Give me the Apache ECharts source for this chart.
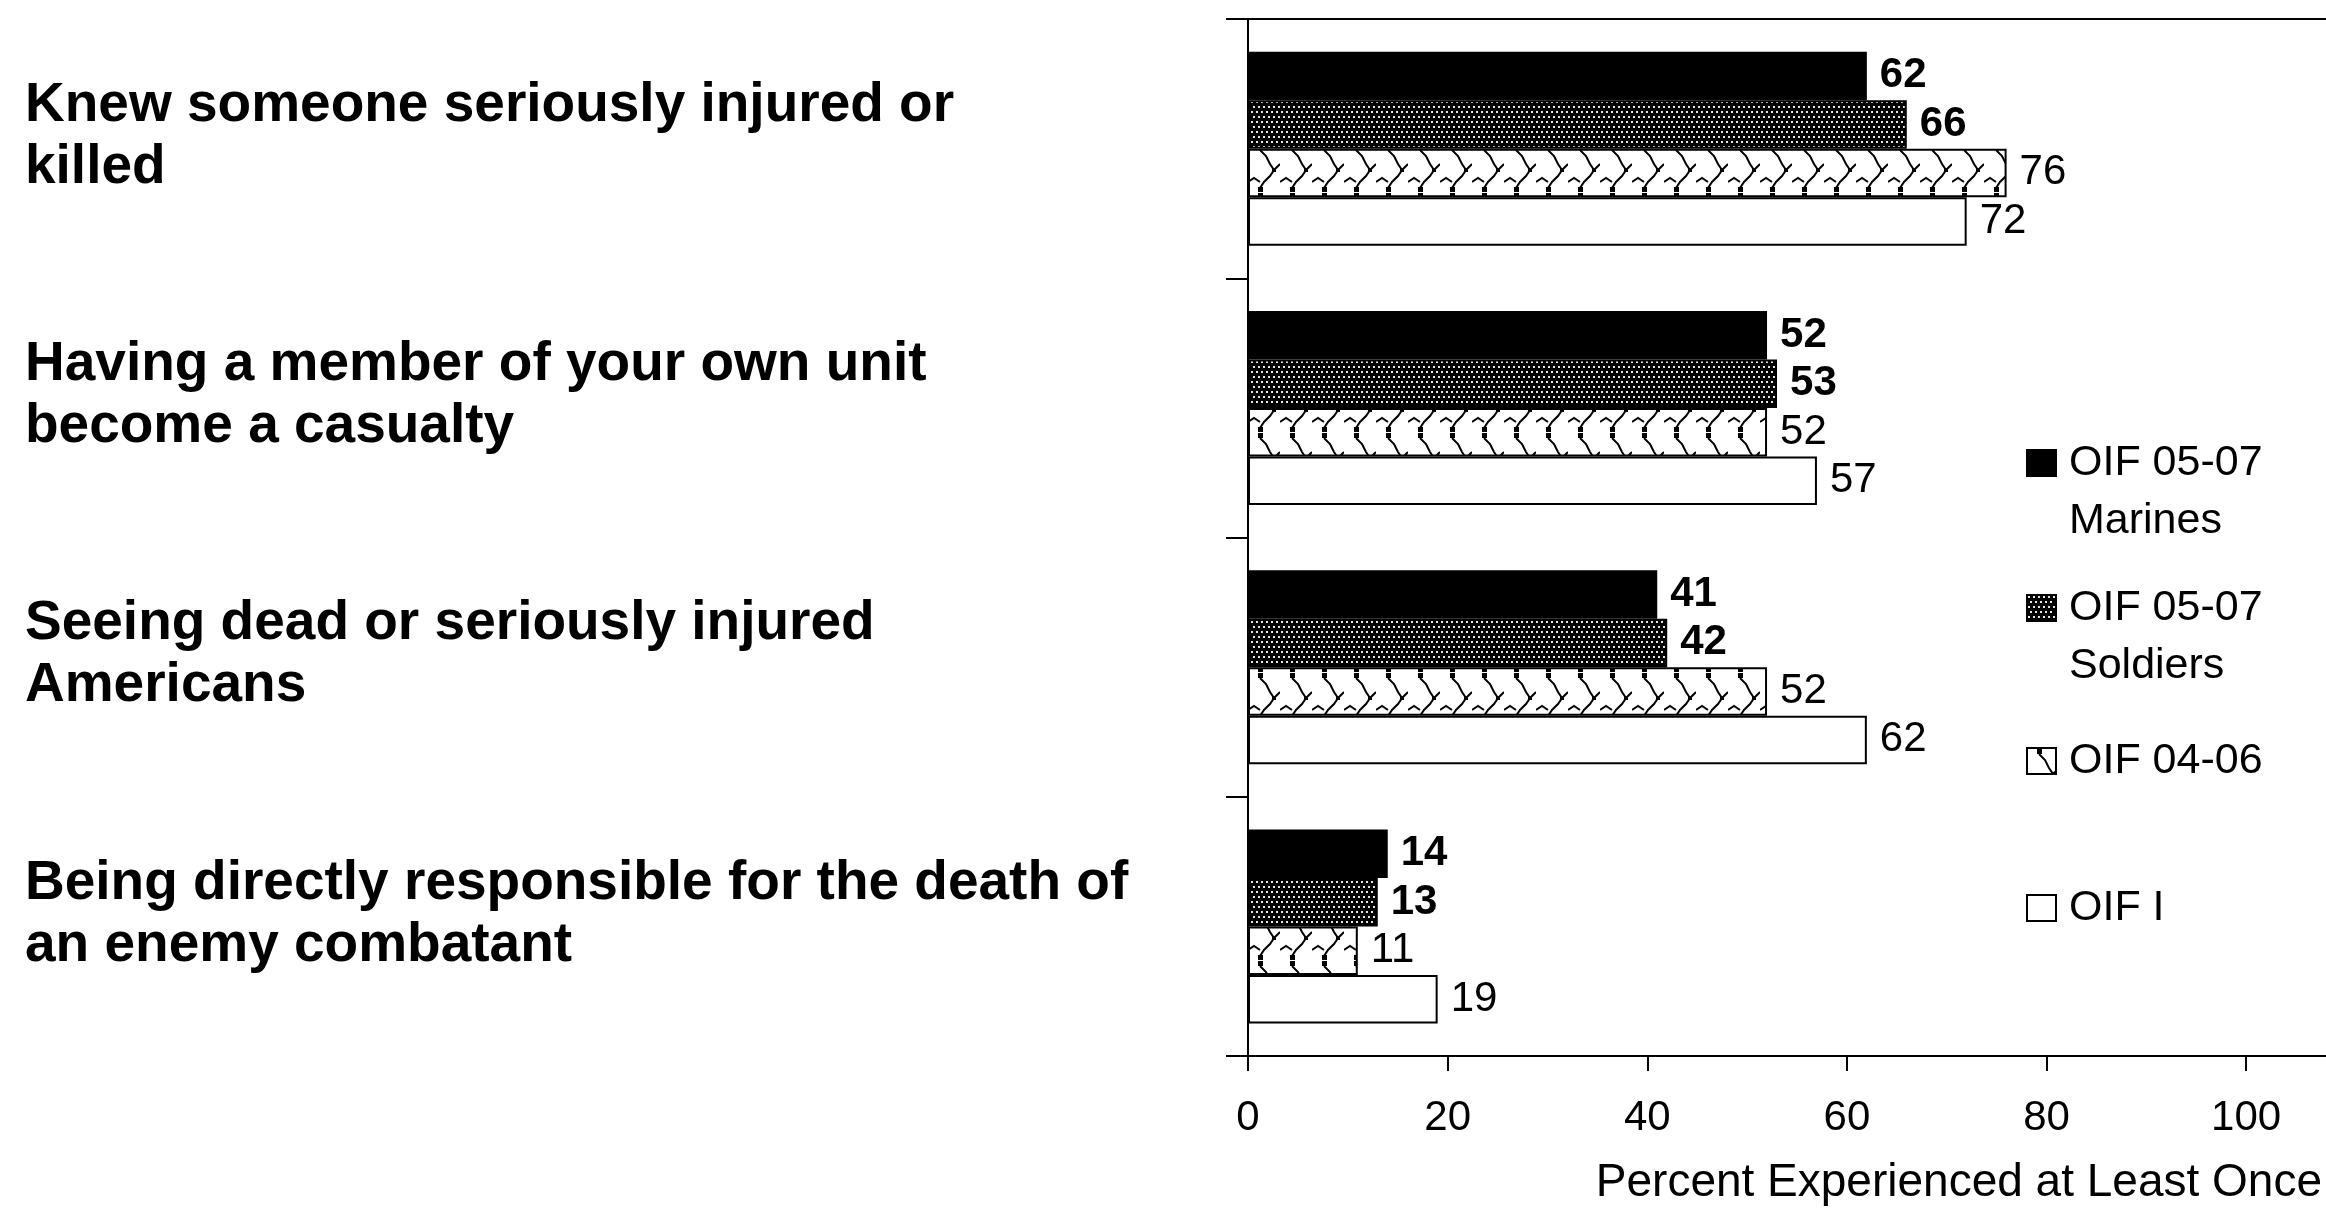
<!DOCTYPE html>
<html>
<head>
<meta charset="utf-8">
<title>Combat experiences</title>
<script src="https://cdn.jsdelivr.net/npm/echarts@6/dist/echarts.min.js"></script>
<style>
  html, body { margin: 0; padding: 0; background: #fff; }
  #chart { width: 2326px; height: 1224px; }
</style>
</head>
<body>
<div id="chart"></div>
<script>
// data
const categories = [
  'Knew someone seriously injured or\nkilled',
  'Having a member of your own unit\nbecome a casualty',
  'Seeing dead or seriously injured\nAmericans',
  'Being directly responsible for the death of\nan enemy combatant'
]
const seriesNames = ['OIF 05-07 Marines', 'OIF 05-07 Soldiers', 'OIF 04-06', 'OIF I']
const legendLabels = ['OIF 05-07\nMarines', 'OIF 05-07\nSoldiers', 'OIF 04-06', 'OIF I']
const marines = [62, 52, 41, 14]
const soldiers = [66, 53, 42, 13]
const oif0406 = [76, 52, 52, 11]
const oifI = [72, 57, 62, 19]
const xTicks = [0, 20, 40, 60, 80, 100]

const narrow = '"Liberation Sans Narrow", "Arial Narrow", "Liberation Sans", Arial, sans-serif'
const sans = '"Liberation Sans", Arial, sans-serif'

// fill patterns (black with white stipple, white with black zigzag)
function dotPattern() {
  const c = document.createElement('canvas')
  c.width = 10
  c.height = 10
  const g = c.getContext('2d')
  g.fillStyle = '#000'
  g.fillRect(0, 0, 10, 10)
  g.fillStyle = '#e6e6e6'
  g.fillRect(1, 1, 2, 2)
  g.fillRect(6, 1, 2, 2)
  g.fillRect(3, 6, 2, 2)
  g.fillRect(8, 6, 2, 2)
  return { image: c, repeat: 'repeat' }
}

function zigzagPattern() {
  const c = document.createElement('canvas')
  c.width = 32
  c.height = 48
  const g = c.getContext('2d')
  g.fillStyle = '#fff'
  g.fillRect(0, 0, 32, 48)
  g.strokeStyle = '#000'
  g.lineWidth = 2
  g.beginPath()
  g.moveTo(12, 6)
  g.lineTo(18, 12)
  g.lineTo(22, 20)
  g.lineTo(26, 26)
  g.lineTo(22, 32)
  g.lineTo(16, 38)
  g.lineTo(12, 44)
  g.stroke()
  g.beginPath()
  g.moveTo(0, 38)
  g.lineTo(6, 34)
  g.lineTo(12, 38)
  g.stroke()
  g.beginPath()
  g.moveTo(26, 26)
  g.lineTo(32, 20)
  g.stroke()
  g.fillStyle = '#000'
  g.fillRect(10, 1, 5, 5)
  g.fillRect(10, 43, 5, 5)
  g.fillRect(24, 24, 4, 4)
  return { image: c, repeat: 'repeat' }
}

const fills = ['#000', dotPattern(), zigzagPattern(), '#fff']
const boldLabel = [true, true, false, false]
const seriesData = [marines, soldiers, oif0406, oifI]

const chart = echarts.init(document.getElementById('chart'))

// two-line legend entries get an empty first line so the icon sits on line one
const legendTops = [376, 521, 732, 879]
const legends = seriesNames.map((name, i) => ({
  data: [name],
  orient: 'vertical',
  left: 2026,
  top: legendTops[i],
  padding: 0,
  icon: 'rect',
  itemWidth: 29,
  itemHeight: 26,
  selectedMode: false,
  formatter: () => (legendLabels[i].indexOf('\n') >= 0 ? '\n' + legendLabels[i] : legendLabels[i]),
  textStyle: {
    fontFamily: sans,
    fontSize: 43,
    lineHeight: 58,
    color: '#000',
    padding: [0, 0, 0, 8]
  }
}))

chart.setOption({
  animation: false,
  backgroundColor: '#fff',
  title: {
    text: 'Percent Experienced at Least Once',
    right: 4,
    top: 1160,
    padding: 0,
    textStyle: { fontFamily: narrow, fontSize: 46, fontWeight: 'normal', color: '#000' }
  },
  legend: legends,
  grid: { left: 1248, right: 0, top: 19, bottom: 168, containLabel: false },
  xAxis: [{
    type: 'value',
    min: 0,
    max: 108,
    interval: 20,
    axisLine: { show: true, lineStyle: { color: '#000', width: 2 } },
    axisTick: { show: true, length: 15, lineStyle: { color: '#000', width: 2 } },
    splitLine: { show: false },
    axisLabel: {
      showMaxLabel: false,
      margin: 41,
      fontFamily: narrow,
      fontSize: 42,
      color: '#000',
      formatter: (v) => (xTicks.indexOf(v) >= 0 ? String(v) : '')
    }
  }, {
    type: 'value',
    position: 'top',
    min: 0,
    max: 108,
    axisLine: { show: true, lineStyle: { color: '#000', width: 2 } },
    axisTick: { show: false },
    axisLabel: { show: false },
    splitLine: { show: false }
  }],
  yAxis: {
    type: 'category',
    inverse: true,
    data: categories,
    axisLine: { show: true, lineStyle: { color: '#000', width: 2 } },
    axisTick: { show: true, length: 22, lineStyle: { color: '#000', width: 2 } },
    axisLabel: {
      align: 'left',
      margin: 1223,
      fontFamily: sans,
      fontWeight: 'bold',
      fontSize: 55,
      lineHeight: 62,
      color: '#000',
      // short spacer line underneath lifts the two text lines a little
      formatter: (v) => v + '\n{s| }',
      rich: { s: { fontSize: 10, lineHeight: 24 } }
    }
  },
  series: seriesNames.map((name, i) => ({
    name: name,
    type: 'bar',
    data: seriesData[i],
    barWidth: 48.5,
    barGap: '0%',
    itemStyle: { color: fills[i], borderColor: '#000', borderWidth: 2 },
    label: {
      show: true,
      position: 'right',
      distance: 13,
      fontFamily: sans,
      fontSize: 42,
      fontWeight: boldLabel[i] ? 'bold' : 'normal',
      color: '#000'
    }
  }))
})
</script>
</body>
</html>
